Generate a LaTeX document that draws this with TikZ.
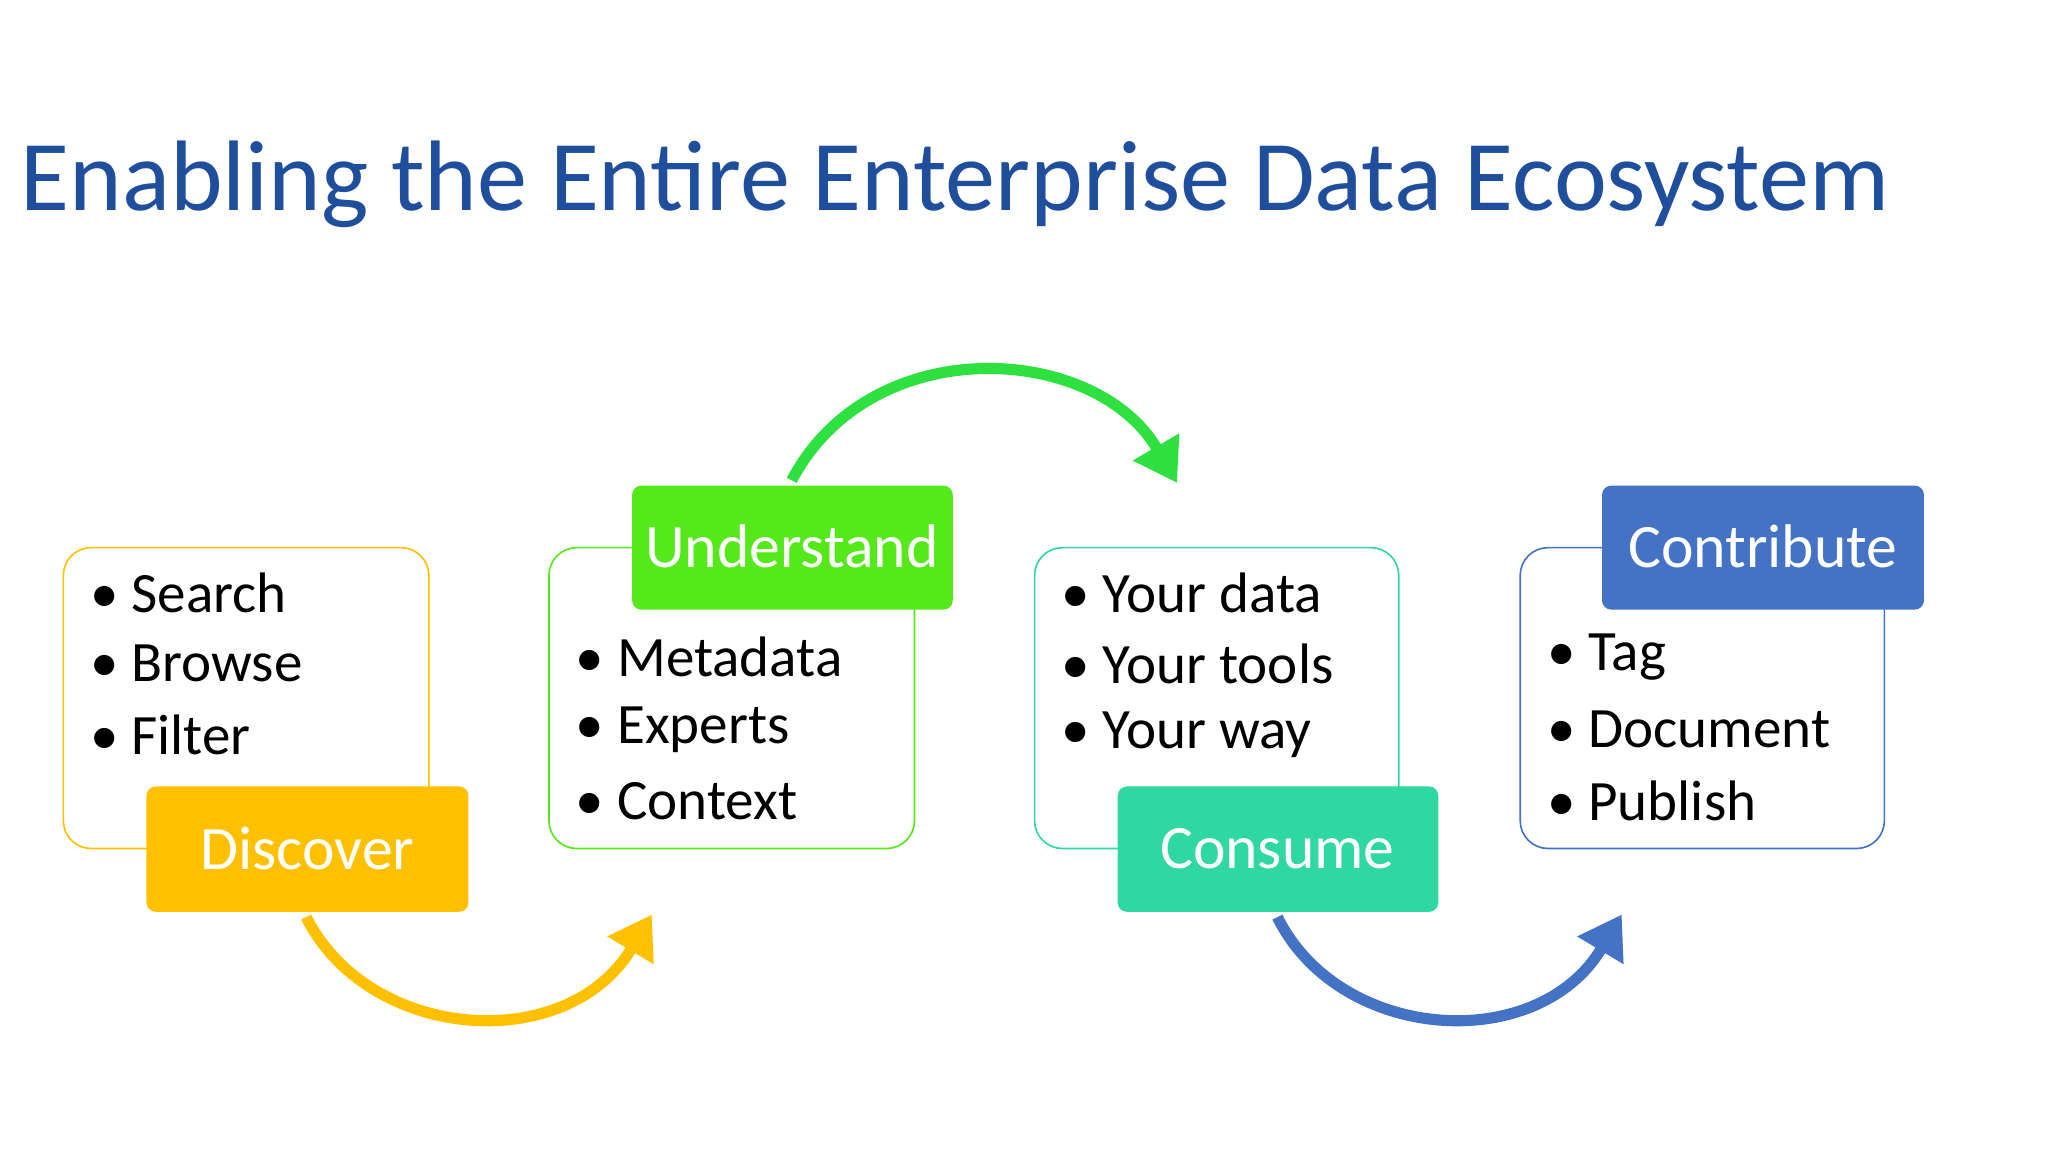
\documentclass[tikz,border=0pt]{standalone}
\usepackage{fontspec}
\setmainfont{Carlito}
\usetikzlibrary{arrows.meta}
\definecolor{cyel}{HTML}{FFC000}
\definecolor{cgrn}{HTML}{55E81A}
\definecolor{cteal}{HTML}{2ED8A0}
\definecolor{cblue}{HTML}{4472C4}
\definecolor{ctitle}{HTML}{1F4E9C}
\definecolor{carc}{HTML}{2EE040}
\begin{document}
\begin{tikzpicture}[x=0.01cm,y=-0.01cm,
  outl/.style={draw=#1,line width=0.35pt,rounded corners=6pt},
  lab/.style={fill=#1,rounded corners=2pt,text=white,font=\fontsize{13.3}{15}\selectfont},
  bul/.style={anchor=west,font=\fontsize{12.3}{14}\selectfont,text=black},
  arc/.style={draw=#1,line width=2.4pt,-{Triangle[length=9pt,width=11pt]}}]
\useasboundingbox (0,0) rectangle (1552,873);
\node[anchor=west,inner sep=0pt,text=ctitle,font=\fontsize{21.6}{24}\selectfont] (title) at (15,140) {Enabling the Entire Enterprise Data Ecosystem};
% boxes
\draw[outl=cyel] (48,415) rectangle (325,643);
\draw[outl=cgrn] (416,415) rectangle (693,643);
\draw[outl=cteal] (784,415) rectangle (1060,643);
\draw[outl=cblue] (1152,415) rectangle (1428,643);
\path[lab=cyel] (111,596) rectangle (355,691);
\path[lab=cgrn] (479,368) rectangle (722,462);
\path[lab=cteal] (847,596) rectangle (1090,691);
\path[lab=cblue] (1214,368) rectangle (1458,462);
\node[lab=cyel,fill=none] (disc) at (233,643) {Discover};
\node[lab=cgrn,fill=none] (und) at (600,414) {Understand};
\node[lab=cteal,fill=none] (cons) at (968,643) {Consume};
\node[lab=cblue,fill=none] (contr) at (1336,414) {Contribute};
% bullets
\node[bul] (b1) at (56,449) {• Search};
\node[bul] (b2) at (56,503) {• Browse};
\node[bul] (b3) at (56,557) {• Filter};
\node[bul] (b4) at (424,498) {• Metadata};
\node[bul] (b5) at (424,553) {• Experts};
\node[bul] (b6) at (424,607) {• Context};
\node[bul] (b7) at (792,449) {• Your data};
\node[bul] (b8) at (792,503) {• Your tools};
\node[bul] (b9) at (792,557) {• Your way};
\node[bul] (b10) at (1160,498) {• Tag};
\node[bul] (b11) at (1160,553) {• Document};
\node[bul] (b12) at (1160,607) {• Publish};
% arcs
\coordinate (a1s) at (232,695); \coordinate (a1e) at (494,693);
\coordinate (a2s) at (600,364); \coordinate (a2e) at (892,366);
\coordinate (a3s) at (968,695); \coordinate (a3e) at (1229,693);
\draw[arc=cyel] (a1s) .. controls (280,790) and (430,800) .. (a1e);
\draw[arc=carc] (a2s) .. controls (660,250) and (830,260) .. (a2e);
\draw[arc=cblue] (a3s) .. controls (1015,790) and (1165,800) .. (a3e);
\end{tikzpicture}
\end{document}
